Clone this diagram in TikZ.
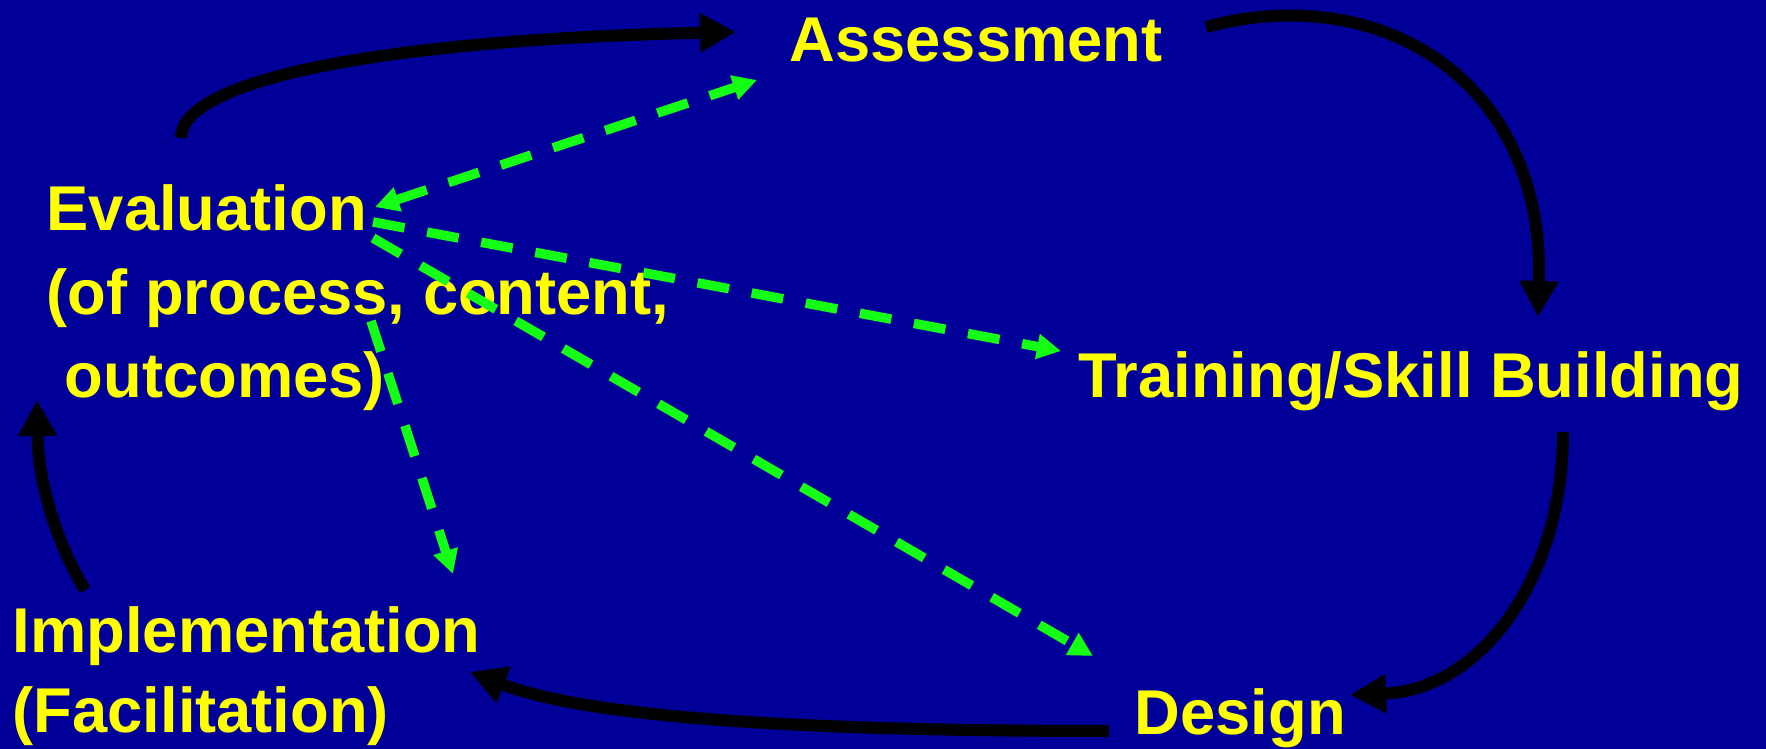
\documentclass[tikz,border=0pt]{standalone}
\usepackage{fontspec}
\setmainfont{Liberation Sans}
\usetikzlibrary{arrows.meta}
\definecolor{slideblue}{RGB}{0,0,153}
\definecolor{slideyellow}{RGB}{255,255,0}
\definecolor{slidegreen}{RGB}{20,255,20}
\tikzset{
	lbl/.style={anchor=base west,inner sep=0pt,text=slideyellow,align=left,font=\bfseries\fontsize{18}{23.8}\selectfont},
	cyc/.style={line width=0.12cm,black,-{Triangle[length=0.36cm,width=0.37cm]}},
	lnk/.style={line width=0.095cm,slidegreen,dash pattern=on 0.32cm off 0.23cm,-{Triangle[length=0.24cm,width=0.24cm]}}
}
\begin{document}
\begin{tikzpicture}[x=0.01cm,y=0.01cm]
			\useasboundingbox (0,0) rectangle (1766,749);
			\fill[slideblue] (0,0) rectangle (1766,749);

			% multi-line labels sit on their last line
			\node[lbl] (ass) at (789,687) {Assessment};
			\node[lbl] (eval) at (46,351) {Evaluation\\(of process, content,\\\hspace{0.18cm}outcomes)};
			\node[lbl] (train) at (1078,351) {Training/Skill Building};
			\node[lbl] (design) at (1134,14) {Design};
			\node[lbl,font=\bfseries\fontsize{18}{23}\selectfont] (impl) at (12,16) {Implementation\\(Facilitation)};

			% ends of the cycle arrows
			\coordinate (eval-out) at (181,611);
			\coordinate (ass-in) at (736,717);
			\coordinate (ass-out) at (1206,722);
			\coordinate (train-in) at (1538,432);
			\coordinate (train-out) at (1563,317);
			\coordinate (design-in) at (1350,54);
			\coordinate (design-out) at (1109,18);
			\coordinate (impl-in) at (470,77);
			\coordinate (impl-out) at (85,159);
			\coordinate (eval-in) at (37,349);

			\draw[cyc] (eval-out) .. controls (181,669) and (380,709) .. (ass-in);
			\draw[cyc] (ass-out) .. controls (1380,769) and (1545,669) .. (train-in);
			\draw[cyc] (train-out) .. controls (1563,169) and (1480,59) .. (design-in);
			\draw[cyc] (design-out) .. controls (850,18) and (600,27) .. (impl-in);
			\draw[cyc] (impl-out) .. controls (55,209) and (38,269) .. (eval-in);

			% ends of the green links
			\coordinate (eval-a) at (375,542);
			\coordinate (ass-g) at (757,669);
			\coordinate (eval-t) at (373,527);
			\coordinate (train-g) at (1061,398);
			\coordinate (eval-d) at (373,511);
			\coordinate (design-g) at (1093,93);
			\coordinate (eval-i) at (371,428);
			\coordinate (impl-g) at (453,175);

			\draw[lnk,{Triangle[length=0.24cm,width=0.24cm]}-{Triangle[length=0.24cm,width=0.24cm]}] (eval-a) -- (ass-g);
			\foreach \a/\b in {eval-t/train-g,eval-d/design-g,eval-i/impl-g} {
				\draw[lnk] (\a) -- (\b);
			}
\end{tikzpicture}
\end{document}
